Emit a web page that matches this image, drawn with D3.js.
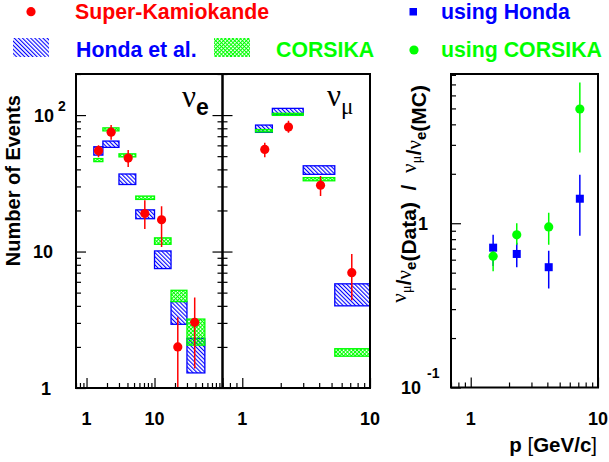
<!DOCTYPE html>
<html>
<head>
<meta charset="utf-8">
<script src="https://cdn.jsdelivr.net/npm/d3@7/dist/d3.min.js"></script>
<style>
  html, body { margin: 0; padding: 0; background: #fff; }
  svg { display: block; font-family: "Liberation Sans", Arial, sans-serif; }
  .bold { font-weight: bold; }
</style>
</head>
<body>
<svg id="chart" width="609" height="462"></svg>
<script>
// ---- data -------------------------------------------------------------
// nu_e panel: momentum bins, measured events, Honda & CORSIKA MC ranges
const binsE    = [[1.28,1.74],[1.74,3.0],[3.0,5.3],[5.3,10],[10,17.5],[17.5,30],[30,55]];
const pE       = [1.5, 2.3, 4.1, 7.2, 12.7, 22, 39];
const dataE    = [54.8, 75, 48.4, 19, 17.1, 2.0, 3.03];
const errE     = [[49,60],[66,84.6],[41.7,55.5],[14.6,23.8],[10.8,21.5],[0.5,3.3],[1.39,4.6]];
const hondaE   = [[50.9,58.6],[58,64.5],[31,37],[17.4,20.2],[7.5,10.1],[2.93,4.3],[1.29,2.31]];
const corsikaE = [[45.6,48.0],[76.6,80.6],[49.4,52.0],[24.1,25.5],[11.3,12.6],[4.3,5.2],[2.06,3.2]];

// nu_mu panel
const binsMu    = [[1.27,1.72],[1.72,3.0],[3.0,5.3],[5.3,10]];
const pMu       = [1.5, 2.3, 4.1, 7.2];
const dataMu    = [56, 81.7, 30.6, 7.0];
const errMu     = [[49,62.7],[74.2,90.8],[25.5,35.7],[4.4,9.6]];
const hondaMu   = [[74.7,84.5],[101,112],[36.8,42.5],[4.0,5.8]];
const corsikaMu = [[75.3,78.3],[99.5,103],[33.0,34.8],[1.71,1.94]];

// double ratio (nu_mu/nu_e data over MC)
const pRatio      = [1.5, 2.3, 4.1, 7.2];
const ratioHonda  = [0.71, 0.65, 0.54, 1.41];
const errHonda    = [[0.55,0.85],[0.54,0.76],[0.40,0.68],[0.84,1.97]];
const ratioCors   = [0.63, 0.85, 0.95, 4.96];
const errCors     = [[0.51,0.72],[0.74,1.0],[0.74,1.16],[2.7,7.2]];

// axis tick labels
const xTickLabelsE  = [1, 10];
const xTickLabelsMu = [1, 10];
const xTickLabelsR  = [1, 10];

// ---- setup ------------------------------------------------------------
const RED = "#ff0000", BLUE = "#0000ff", GREEN = "#00ff00";
const svg = d3.select("#chart");
const defs = svg.append("defs");

// "\\\\" single hatch (Honda)
const hb = defs.append("pattern").attr("id","hatchBlue")
  .attr("patternUnits","userSpaceOnUse").attr("width",2.9).attr("height",10)
  .attr("patternTransform","rotate(-45)");
hb.append("rect").attr("x",0).attr("y",0).attr("width",1.1).attr("height",10).attr("fill",BLUE);

// cross hatch (CORSIKA)
const hg = defs.append("pattern").attr("id","hatchGreen")
  .attr("patternUnits","userSpaceOnUse").attr("width",2.7).attr("height",2.7)
  .attr("patternTransform","rotate(45)");
hg.append("rect").attr("x",0).attr("y",0).attr("width",1).attr("height",2.7).attr("fill",GREEN);
hg.append("rect").attr("x",0).attr("y",0).attr("width",2.7).attr("height",1).attr("fill",GREEN);

// scales
const plotTop = 74, plotBottom = 388;
const xE  = d3.scaleLog().domain([0.7, 100]).range([76, 222.5]);
const xMu = d3.scaleLog().domain([0.7, 10]).range([222.5, 370]);
const xR  = d3.scaleLog().domain([0.7, 10]).range([451, 598]);
const yN  = d3.scaleLog().domain([1, 200]).range([plotBottom, plotTop]);
const yR  = d3.scaleLog().domain([0.1, 8.1]).range([387.5, plotTop]);

const isMajor = v => Math.abs(Math.log10(v) - Math.round(Math.log10(v))) < 1e-6;

function ticks(g, axisFn, scale, size) {
  const t = scale.ticks();
  g.append("g").call(axisFn(scale).tickValues(t.filter(v => !isMajor(v))).tickSize(-size.minor).tickFormat(""));
  g.append("g").call(axisFn(scale).tickValues(t.filter(isMajor)).tickSize(-size.major).tickFormat(""));
  g.selectAll(".domain").remove();
  g.selectAll("line").attr("stroke","#000").attr("stroke-width",1.2);
}
const TS = {minor: 5, major: 10};

// clip regions
function clip(id, x0, x1, y0, y1) {
  defs.append("clipPath").attr("id", id).append("rect")
    .attr("x", x0).attr("y", y0).attr("width", x1 - x0).attr("height", y1 - y0);
}
clip("clipE", xE.range()[0], xE.range()[1], plotTop, plotBottom);
clip("clipMu", xMu.range()[0], xMu.range()[1], plotTop, plotBottom);
clip("clipR", xR.range()[0], xR.range()[1], plotTop, yR.range()[0]);

// ---- histogram panels ---------------------------------------------------
function panel(id, x, bins, honda, corsika, p, data, err) {
  const g = svg.append("g").attr("clip-path", `url(#${id})`);
  g.selectAll("rect.honda").data(honda).join("rect").attr("class","honda")
    .attr("x", (d,i) => x(bins[i][0])).attr("width", (d,i) => x(bins[i][1]) - x(bins[i][0]))
    .attr("y", d => yN(d[1])).attr("height", d => yN(d[0]) - yN(d[1]))
    .attr("fill","url(#hatchBlue)").attr("stroke",BLUE).attr("stroke-width",1.3);
  g.selectAll("rect.cors").data(corsika).join("rect").attr("class","cors")
    .attr("x", (d,i) => x(bins[i][0])).attr("width", (d,i) => x(bins[i][1]) - x(bins[i][0]))
    .attr("y", d => yN(d[1])).attr("height", d => yN(d[0]) - yN(d[1]))
    .attr("fill","url(#hatchGreen)").attr("stroke",GREEN).attr("stroke-width",1.3);
  g.selectAll("line.err").data(err).join("line").attr("class","err")
    .attr("x1", (d,i) => x(p[i])).attr("x2", (d,i) => x(p[i]))
    .attr("y1", d => yN(d[0])).attr("y2", d => yN(d[1]))
    .attr("stroke",RED).attr("stroke-width",1.5);
  g.selectAll("circle").data(data).join("circle")
    .attr("cx", (d,i) => x(p[i])).attr("cy", d => yN(d)).attr("r", 4.6).attr("fill",RED);
}
panel("clipE", xE, binsE, hondaE, corsikaE, pE, dataE, errE);
panel("clipMu", xMu, binsMu, hondaMu, corsikaMu, pMu, dataMu, errMu);

// ---- ratio panel -------------------------------------------------------
const gR = svg.append("g").attr("clip-path","url(#clipR)");
gR.selectAll("line.eh").data(errHonda).join("line").attr("class","eh")
  .attr("x1",(d,i)=>xR(pRatio[i])).attr("x2",(d,i)=>xR(pRatio[i]))
  .attr("y1",d=>yR(d[0])).attr("y2",d=>yR(d[1])).attr("stroke",BLUE).attr("stroke-width",1.5);
gR.selectAll("line.ec").data(errCors).join("line").attr("class","ec")
  .attr("x1",(d,i)=>xR(pRatio[i])).attr("x2",(d,i)=>xR(pRatio[i]))
  .attr("y1",d=>yR(d[0])).attr("y2",d=>yR(d[1])).attr("stroke",GREEN).attr("stroke-width",1.5);
gR.selectAll("rect.sq").data(ratioHonda).join("rect").attr("class","sq")
  .attr("x",(d,i)=>xR(pRatio[i]) - 4).attr("y",d=>yR(d) - 4)
  .attr("width",8).attr("height",8).attr("fill",BLUE);
gR.selectAll("circle").data(ratioCors).join("circle")
  .attr("cx",(d,i)=>xR(pRatio[i])).attr("cy",d=>yR(d)).attr("r",4.6).attr("fill",GREEN);

// ---- frames & ticks ----------------------------------------------------
ticks(svg.append("g").attr("transform",`translate(0,${plotBottom})`), d3.axisBottom, xE, TS);
ticks(svg.append("g").attr("transform",`translate(0,${plotBottom})`), d3.axisBottom, xMu, TS);
ticks(svg.append("g").attr("transform",`translate(0,${yR.range()[0]})`), d3.axisBottom, xR, TS);
ticks(svg.append("g").attr("transform",`translate(${xE.range()[0]},0)`), d3.axisLeft, yN, TS);
ticks(svg.append("g").attr("transform",`translate(${xMu.range()[0]},0)`), d3.axisLeft, yN, TS);
ticks(svg.append("g").attr("transform",`translate(${xE.range()[1]},0)`), d3.axisRight, yN, TS);
ticks(svg.append("g").attr("transform",`translate(${xR.range()[0]},0)`), d3.axisLeft, yR, TS);

function frame(x0, x1, y0, y1) {
  svg.append("rect").attr("x",x0).attr("y",y0).attr("width",x1-x0).attr("height",y1-y0)
    .attr("fill","none").attr("stroke","#000").attr("stroke-width",2);
}
frame(xE.range()[0], xE.range()[1], plotTop, plotBottom);
frame(xMu.range()[0], xMu.range()[1], plotTop, plotBottom);
frame(xR.range()[0], xR.range()[1], plotTop, yR.range()[0]);

// ---- tick labels -------------------------------------------------------
const TL = 18;
function xLabels(scale, vals) {
  svg.append("g").selectAll("text").data(vals).join("text")
    .attr("class","bold").attr("x", d => scale(d)).attr("y", 425)
    .attr("text-anchor","middle").attr("font-size",TL).text(d => d);
}
xLabels(xE, xTickLabelsE);
xLabels(xMu, xTickLabelsMu);
xLabels(xR, xTickLabelsR);

// left y axis: 1, 10, 10^2
const yl = svg.append("g").attr("class","bold").attr("font-size",TL);
yl.append("text").attr("x",51).attr("y",yN(1)+6.5).attr("text-anchor","end").text("1");
yl.append("text").attr("x",53).attr("y",yN(10)+6.5).attr("text-anchor","end").text("10");
yl.append("text").attr("x",54).attr("y",yN(100)+6.5).attr("text-anchor","end").text("10");
yl.append("text").attr("x",58).attr("y",yN(100)-4).attr("font-size",14).text("2");

// right y axis: 10^-1, 1
const yr = svg.append("g").attr("class","bold").attr("font-size",TL);
yr.append("text").attr("x",428).attr("y",yR(1)+6.5).attr("text-anchor","end").text("1");
yr.append("text").attr("x",421).attr("y",yR(0.1)+6).attr("text-anchor","end").text("10");
yr.append("text").attr("x",427).attr("y",yR(0.1)-10).attr("font-size",14).text("-1");

// ---- axis titles -------------------------------------------------------
svg.append("text").attr("class","bold").attr("font-size",20)
  .attr("transform","translate(20,95) rotate(-90)").attr("text-anchor","end")
  .text("Number of Events");

svg.append("text").attr("class","bold").attr("font-size",20.5)
  .attr("x",597).attr("y",452).attr("text-anchor","end")
  .call(t => {
    t.append("tspan").text("p ");
    t.append("tspan").attr("font-weight","normal").text("[");
    t.append("tspan").text("GeV/c");
    t.append("tspan").attr("font-weight","normal").text("]");
  });

// double-ratio title: nu_mu/nu_e(Data) / nu_mu/nu_e(MC)
const rt = svg.append("text").attr("class","bold").attr("font-size",21)
  .attr("transform","translate(406,85) rotate(-90)").attr("text-anchor","end")
  .style("white-space","pre");
function nuPart(sub) {
  rt.append("tspan").attr("font-family","'Liberation Serif', serif").attr("font-weight","normal").text("ν");
  rt.append("tspan").attr("font-size",15).attr("dy",5)
    .attr("font-family", sub === "μ" ? "'Liberation Serif', serif" : null)
    .attr("font-weight", sub === "μ" ? "normal" : "bold").text(sub);
  rt.append("tspan").attr("dy",-5).text("");
}
nuPart("μ"); rt.append("tspan").text("/"); nuPart("e"); rt.append("tspan").text("(Data)  /  ");
nuPart("μ"); rt.append("tspan").text("/"); nuPart("e"); rt.append("tspan").text("(MC)");

// panel tags
const tagE = svg.append("text").attr("x",182).attr("y",106.5);
tagE.append("tspan").attr("font-family","'Liberation Serif', serif").attr("font-size",31).text("ν");
tagE.append("tspan").attr("class","bold").attr("font-size",23).attr("dy",8).text("e");

const tagMu = svg.append("text").attr("x",327).attr("y",106);
tagMu.append("tspan").attr("font-family","'Liberation Serif', serif").attr("font-size",31).text("ν");
tagMu.append("tspan").attr("font-family","'Liberation Serif', serif").attr("font-size",23).attr("dy",8).text("μ");

// ---- legend ------------------------------------------------------------
const lg = svg.append("g").attr("class","bold").attr("font-size",21.3);
lg.append("circle").attr("cx",31).attr("cy",11.7).attr("r",4.6).attr("fill",RED);
lg.append("text").attr("x",75).attr("y",18.8).attr("fill",RED).text("Super-Kamiokande");
lg.append("rect").attr("x",409.5).attr("y",8).attr("width",7.5).attr("height",7.5).attr("fill",BLUE);
lg.append("text").attr("x",441).attr("y",18.8).attr("fill",BLUE).text("using Honda");

lg.append("rect").attr("x",13).attr("y",38).attr("width",36).attr("height",19).attr("fill","url(#hatchBlue)");
lg.append("text").attr("x",76).attr("y",56.8).attr("fill",BLUE).text("Honda et al.");
lg.append("rect").attr("x",214).attr("y",38).attr("width",36).attr("height",19).attr("fill","url(#hatchGreen)");
lg.append("text").attr("x",276).attr("y",56.8).attr("fill",GREEN).text("CORSIKA");
lg.append("circle").attr("cx",414).attr("cy",50).attr("r",4.6).attr("fill",GREEN);
lg.append("text").attr("x",441).attr("y",56.8).attr("fill",GREEN).text("using CORSIKA");
</script>
</body>
</html>
